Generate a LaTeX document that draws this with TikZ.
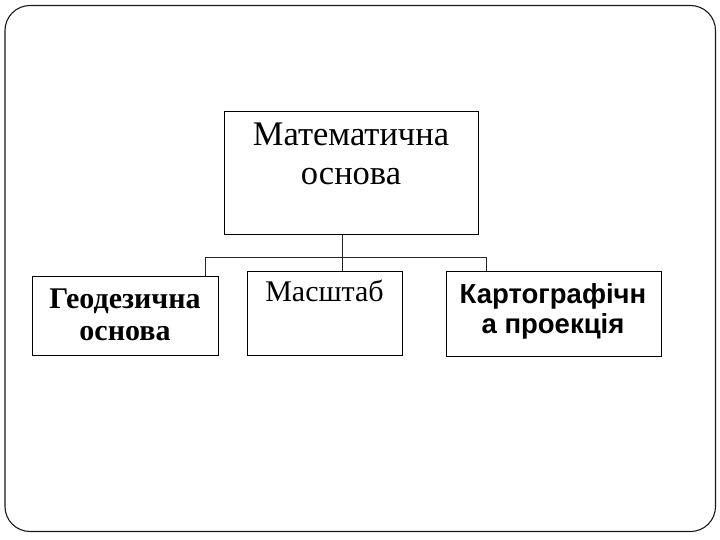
\documentclass[tikz,border=0pt]{standalone}
\usepackage{fontspec}
\setmainfont{Liberation Serif}
\newfontfamily\arialf{Liberation Sans}
\begin{document}
\begin{tikzpicture}[x=1pt,y=-1pt,
  box/.style={draw=black, line width=1pt, rectangle, inner sep=0pt, anchor=north west},
  txt/.style={inner sep=0pt, align=center, anchor=base},
  link/.style={draw=black!85, line width=0.9pt}]
\useasboundingbox (0,0) rectangle (720,540);
\draw[line width=1.1pt, rounded corners=25pt, draw=black!90] (5,5.5) rectangle (715.5,531.5);
% boxes
\node[box, minimum width=254pt, minimum height=123pt] (top) at (224,111) {};
\node[box, minimum width=186.5pt, minimum height=79pt] (geo) at (31.5,276) {};
\node[box, minimum width=155.5pt, minimum height=84pt] (mas) at (246.5,271) {};
\node[box, minimum width=215pt, minimum height=85pt] (kart) at (445.5,271) {};
% texts (anchor base = baseline of last line)
\node[txt, font=\fontsize{34.5}{39.3}\selectfont] (ttop) at (351,185) {Математична\\основа};
\node[txt, font=\fontsize{30}{33}\selectfont] (tmas) at (324.5,301) {Масштаб};
\node[txt, font=\fontsize{30}{31.7}\selectfont\bfseries] (tgeo) at (125,340) {Геодезична\\основа};
\node[txt, font=\fontsize{27.5}{30}\selectfont\arialf\bfseries] (tkart) at (553,333) {Картографічн\\а проекція};
% connectors
\coordinate (j) at (342.5,257.5);
\coordinate (jl) at (205,257.5);
\coordinate (jr) at (486.5,257.5);
\draw[link] (j |- top.south) -- (j);
\draw[link] (jl) -- (jr);
\draw[link] (jl) -- (jl |- geo.north);
\draw[link] (j) -- (j |- mas.north);
\draw[link] (jr) -- (jr |- kart.north);
\end{tikzpicture}
\end{document}
